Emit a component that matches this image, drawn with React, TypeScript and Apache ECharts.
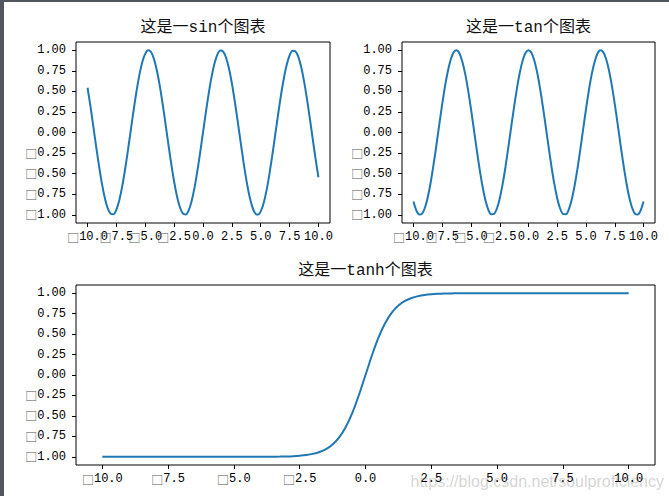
import React, { useEffect, useRef } from "react";
import * as echarts from "echarts";

const xValues = [
  -10, -9.75, -9.5, -9.25, -9, -8.75, -8.5, -8.25, -8, -7.75,
  -7.5, -7.25, -7, -6.75, -6.5, -6.25, -6, -5.75, -5.5, -5.25,
  -5, -4.75, -4.5, -4.25, -4, -3.75, -3.5, -3.25, -3, -2.75,
  -2.5, -2.25, -2, -1.75, -1.5, -1.25, -1, -0.75, -0.5, -0.25,
  0,
  0.25, 0.5, 0.75, 1, 1.25, 1.5, 1.75, 2, 2.25, 2.5,
  2.75, 3, 3.25, 3.5, 3.75, 4, 4.25, 4.5, 4.75, 5,
  5.25, 5.5, 5.75, 6, 6.25, 6.5, 6.75, 7, 7.25, 7.5,
  7.75, 8, 8.25, 8.5, 8.75, 9, 9.25, 9.5, 9.75, 10,
];

const sinValues = [
  0.544, 0.320, 0.075, -0.174, -0.412, -0.625, -0.799, -0.923, -0.989, -0.995,
  -0.938, -0.823, -0.657, -0.450, -0.215, 0.033, 0.279, 0.508, 0.706, 0.859,
  0.959, 0.999, 0.978, 0.895, 0.757, 0.572, 0.351, 0.108, -0.141, -0.382,
  -0.599, -0.778, -0.909, -0.984, -0.997, -0.949, -0.841, -0.682, -0.479, -0.247,
  0,
  0.247, 0.479, 0.682, 0.841, 0.949, 0.997, 0.984, 0.909, 0.778, 0.599,
  0.382, 0.141, -0.108, -0.351, -0.572, -0.757, -0.895, -0.978, -0.999, -0.959,
  -0.859, -0.706, -0.508, -0.279, -0.033, 0.215, 0.450, 0.657, 0.823, 0.938,
  0.995, 0.989, 0.923, 0.799, 0.625, 0.412, 0.174, -0.075, -0.320, -0.544,
];

const cosValues = [
  -0.839, -0.948, -0.997, -0.985, -0.911, -0.781, -0.602, -0.385, -0.146, 0.104,
  0.347, 0.569, 0.754, 0.893, 0.977, 0.999, 0.960, 0.861, 0.709, 0.512,
  0.284, 0.038, -0.211, -0.446, -0.654, -0.821, -0.937, -0.994, -0.990, -0.924,
  -0.801, -0.628, -0.416, -0.178, 0.071, 0.315, 0.540, 0.732, 0.878, 0.969,
  1,
  0.969, 0.878, 0.732, 0.540, 0.315, 0.071, -0.178, -0.416, -0.628, -0.801,
  -0.924, -0.990, -0.994, -0.937, -0.821, -0.654, -0.446, -0.211, 0.038, 0.284,
  0.512, 0.709, 0.861, 0.960, 0.999, 0.977, 0.893, 0.754, 0.569, 0.347,
  0.104, -0.146, -0.385, -0.602, -0.781, -0.911, -0.985, -0.997, -0.948, -0.839,
];

const tanhValues = [
  -1, -1, -1, -1, -1, -1, -1, -1, -1, -1,
  -1, -1, -1, -1, -1, -1, -1, -1, -1, -1,
  -1, -0.9999, -0.9998, -0.9996, -0.9993, -0.9989, -0.9982, -0.997, -0.9951, -0.9919,
  -0.9866, -0.978, -0.964, -0.9414, -0.9051, -0.8483, -0.7616, -0.6351, -0.4621, -0.2449,
  0,
  0.2449, 0.4621, 0.6351, 0.7616, 0.8483, 0.9051, 0.9414, 0.964, 0.978, 0.9866,
  0.9919, 0.9951, 0.997, 0.9982, 0.9989, 0.9993, 0.9996, 0.9998, 0.9999, 1,
  1, 1, 1, 1, 1, 1, 1, 1, 1, 1,
  1, 1, 1, 1, 1, 1, 1, 1, 1, 1,
];

// x ticks split into two interleaved sets so crowded labels are all kept
const xTicksMain = [-10, -5, 0, 5, 10];
const xTicksHalf = [-7.5, -2.5, 2.5, 7.5];
const yTicks = [-1, -0.75, -0.5, -0.25, 0, 0.25, 0.5, 0.75, 1];
const titles = ["这是一sin个图表", "这是一tan个图表", "这是一tanh个图表"];
const watermark = "https://blog.csdn.net/soulproficiency";

const LINE_COLOR = "#1f77b4";
const MONO = "'Liberation Mono', 'DejaVu Sans Mono', monospace";
const CJK = "'Noto Sans CJK SC', sans-serif";

const grids = [
  { left: 76, top: 42, width: 254, height: 181 },
  { left: 402, top: 42, width: 253, height: 181 },
  { left: 76, top: 285, width: 579, height: 180 },
];

function fmt(v: number, digits: number) {
  const s = Math.abs(v).toFixed(digits);
  return v < 0 ? `{b|□}${s}` : s;
}

export default function App() {
  const ref = useRef<HTMLDivElement>(null);

  useEffect(() => {
    if (!ref.current) return;
    const chart = echarts.init(ref.current, undefined, { renderer: "svg" });
    const seriesData = [sinValues, cosValues, tanhValues];

    const labelBase = {
      fontFamily: MONO,
      fontSize: 12,
      color: "#000",
      showMinLabel: true,
      showMaxLabel: true,
      hideOverlap: false,
      rich: { b: { fontFamily: CJK, fontSize: 12, color: "#555" } },
    };

    const makeX = (gridIndex: number, ticks: number[]) => ({
      type: "value",
      gridIndex,
      min: -11,
      max: 11,
      position: "bottom",
      axisLine: { show: false, onZero: false },
      splitLine: { show: false },
      axisTick: {
        show: true,
        length: 4,
        customValues: ticks,
        lineStyle: { color: "#000", width: 1 },
      },
      axisLabel: {
        ...labelBase,
        margin: 8,
        customValues: ticks,
        formatter: (v: number) => fmt(v, 1),
      },
    });

    const xAxis: any[] = [];
    grids.forEach((_, i) => {
      xAxis.push(makeX(i, xTicksMain));
      xAxis.push(makeX(i, xTicksHalf));
    });

    const option: any = {
      animation: false,
      backgroundColor: "#fff",
      grid: grids.map((g) => ({
        ...g,
        show: true,
        borderColor: "#000",
        borderWidth: 1,
        backgroundColor: "transparent",
        containLabel: false,
      })),
      xAxis,
      yAxis: grids.map((_, i) => ({
        type: "value",
        gridIndex: i,
        min: -1.1,
        max: 1.1,
        position: "left",
        axisLine: { show: false, onZero: false },
        splitLine: { show: false },
        axisTick: {
          show: true,
          length: 4,
          customValues: yTicks,
          lineStyle: { color: "#000", width: 1 },
        },
        axisLabel: {
          ...labelBase,
          margin: 10,
          customValues: yTicks,
          formatter: (v: number) => fmt(v, 2),
        },
      })),
      series: seriesData.map((ys, i) => ({
        type: "line",
        xAxisIndex: i * 2,
        yAxisIndex: i,
        data: xValues.map((x, k) => [x, ys[k]]),
        showSymbol: false,
        smooth: 0.3,
        lineStyle: { color: LINE_COLOR, width: 2 },
        silent: true,
      })),
      graphic: [
        { type: "rect", shape: { x: 0, y: 0, width: 4, height: 496 }, style: { fill: "#50565b" } },
        { type: "rect", shape: { x: 0, y: 0, width: 669, height: 2 }, style: { fill: "#50565b" } },
        ...grids.map((g, i) => ({
          type: "text",
          x: g.left + g.width / 2,
          y: g.top - 14,
          style: {
            text: titles[i],
            fill: "#111",
            font: `16px 'Liberation Mono', 'Noto Sans CJK SC', sans-serif`,
            textAlign: "center",
            textVerticalAlign: "middle",
          },
        })),
        {
          type: "text",
          x: 664,
          y: 481,
          silent: true,
          style: {
            text: watermark,
            fill: "rgba(170,170,170,0.5)",
            font: "16px 'Liberation Sans', sans-serif",
            textAlign: "right",
            textVerticalAlign: "middle",
          },
        },
      ],
    };
    chart.setOption(option);
    return () => chart.dispose();
  }, []);

  return (
    <div
      ref={ref}
      style={{ position: "fixed", left: 0, top: 0, width: 669, height: 496, background: "#fff" }}
    />
  );
}
